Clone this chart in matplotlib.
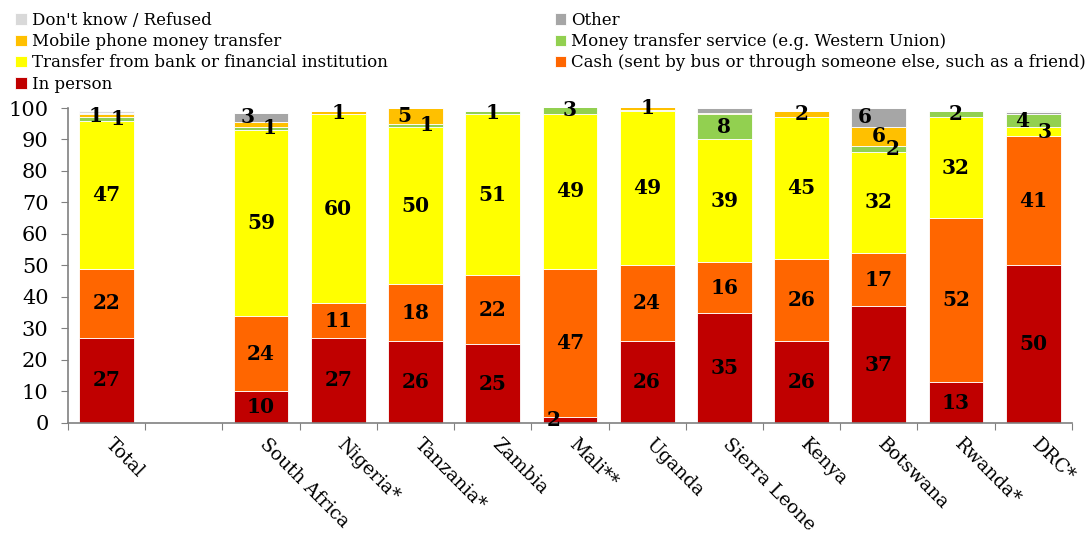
import numpy as np
import matplotlib
matplotlib.use('Agg')
import matplotlib.pyplot as plt

plt.rcParams['font.family'] = ['DejaVu Serif']

# categories (empty slot separates Total from the countries)
countries = ['Total', '', 'South Africa', 'Nigeria*', 'Tanzania*', 'Zambia', 'Mali**',
             'Uganda', 'Sierra Leone', 'Kenya', 'Botswana', 'Rwanda*', 'DRC*']

# shares (%) per channel, stacked bottom to top
in_person = [27, 0, 10, 27, 26, 25, 2, 26, 35, 26, 37, 13, 50]
cash      = [22, 0, 24, 11, 18, 22, 47, 24, 16, 26, 17, 52, 41]
bank      = [47, 0, 59, 60, 50, 51, 49, 49, 39, 45, 32, 32, 3]
mts       = [1, 0, 1, 0, 1, 1, 3, 0.4, 8, 0, 2, 2, 4]
mobile    = [1, 0, 1.5, 1, 5, 0, 0, 1, 0.5, 2, 6, 0, 0]
other     = [0.5, 0, 3, 0, 0, 0, 0, 0, 1.5, 0, 6, 0, 0.6]
dont_know = [0.5, 0, 0, 0, 0, 0, 0, 0, 0, 0, 0, 0, 0.5]

series = [
    ('In person', in_person, '#C00000'),
    ('Cash (sent by bus or through someone else, such as a friend)', cash, '#FF6600'),
    ('Transfer from bank or financial institution', bank, '#FFFF00'),
    ('Money transfer service (e.g. Western Union)', mts, '#92D050'),
    ('Mobile phone money transfer', mobile, '#FFC000'),
    ('Other', other, '#A6A6A6'),
    ("Don't know / Refused", dont_know, '#D9D9D9'),
]

# labels that are not shown, and sideways nudges (fraction of bar width)
hidden = {(4, 2), (5, 8)}
nudge = {(4, 0): -0.2, (3, 0): 0.2, (5, 2): -0.25, (3, 2): 0.15,
         (4, 4): -0.2, (3, 4): 0.2, (0, 6): -0.3,
         (5, 10): -0.25, (4, 10): 0.0, (3, 10): 0.25,
         (3, 12): -0.2, (2, 12): 0.2}

fig = plt.figure(figsize=(10.87, 5.4), dpi=100)
ax = fig.add_axes([0.0626, 0.2167, 0.9234, 0.5833])

x = np.arange(len(countries))
width = 0.71
bottom = np.zeros(len(countries))
handles = {}
for si, (name, vals, color) in enumerate(series):
    vals = np.array(vals, dtype=float)
    bars = ax.bar(x, vals, width, bottom=bottom, color=color,
                  edgecolor='white', linewidth=0.6, label=name)
    handles[name] = bars
    for ci, v in enumerate(vals):
        if v < 1 or (si, ci) in hidden:
            continue
        xc = x[ci] + nudge.get((si, ci), 0) * width
        yc = bottom[ci] + v / 2
        ax.text(xc, yc, f'{v:.0f}', ha='center', va='center',
                fontsize=14.5, fontweight='bold', color='black')
    bottom += vals

ax.set_xlim(-0.5, len(countries) - 0.5)
ax.set_ylim(0, 100)
ax.set_yticks(np.arange(0, 101, 10))
ax.tick_params(axis='y', labelsize=15, length=5, color='#808080', pad=9)

# category ticks sit between the bars
ax.set_xticks(np.arange(-0.5, len(countries), 1))
ax.set_xticklabels([])
ax.tick_params(axis='x', length=5, color='#808080')
for ci, name in enumerate(countries):
    ax.text(x[ci] + 0.02, -6.0, name, rotation=-45, rotation_mode='anchor',
            ha='left', va='center', fontsize=13.5)

for side in ['top', 'right']:
    ax.spines[side].set_visible(False)
for side in ['left', 'bottom']:
    ax.spines[side].set_color('#808080')
    ax.spines[side].set_linewidth(1.2)

order = ["Don't know / Refused", 'Mobile phone money transfer',
         'Transfer from bank or financial institution', 'In person',
         'Other', 'Money transfer service (e.g. Western Union)',
         'Cash (sent by bus or through someone else, such as a friend)']
fig.legend([handles[n] for n in order], order, ncol=2, loc='upper left',
           bbox_to_anchor=(0.008, 0.99), frameon=False, fontsize=12,
           handlelength=0.7, handleheight=0.7, handletextpad=0.3,
           labelspacing=0.25, columnspacing=10.0, borderaxespad=0)

fig.savefig('out.png', dpi=100)
